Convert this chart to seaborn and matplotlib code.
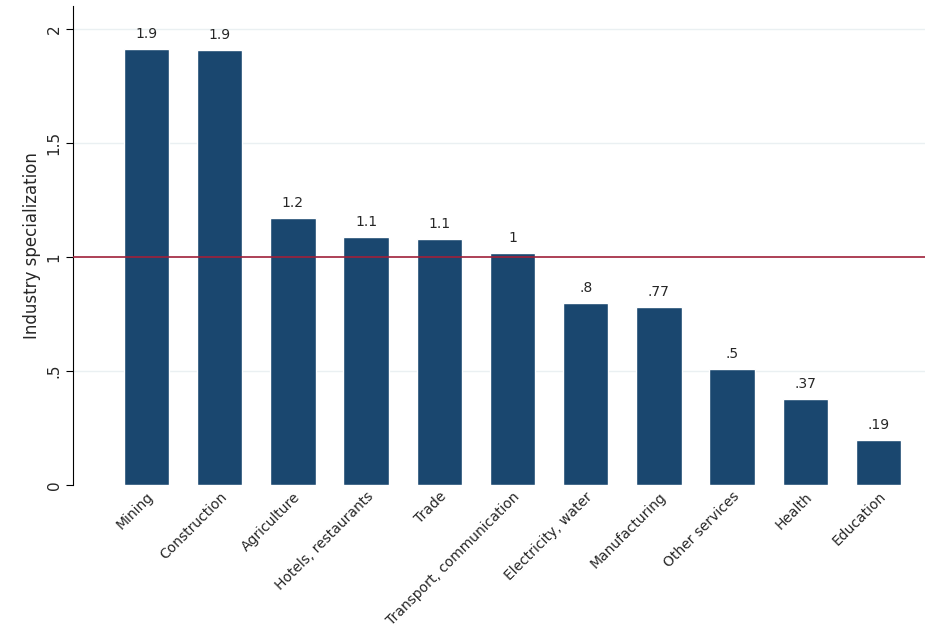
import matplotlib
matplotlib.use('Agg')
import matplotlib.pyplot as plt
import seaborn as sns
import pandas as pd

# Data
industries = ['Mining', 'Construction', 'Agriculture', 'Hotels, restaurants', 'Trade',
              'Transport, communication', 'Electricity, water', 'Manufacturing',
              'Other services', 'Health', 'Education']
values = [1.915, 1.908, 1.171, 1.088, 1.079, 1.018, 0.798, 0.781, 0.509, 0.377, 0.197]
bar_labels = ['1.9', '1.9', '1.2', '1.1', '1.1', '1', '.8', '.77', '.5', '.37', '.19']
ytick_vals = [0, 0.5, 1, 1.5, 2]
ytick_labels = ['0', '.5', '1', '1.5', '2']

df = pd.DataFrame({'industry': industries, 'value': values})

sns.set_style('white')
plt.rcParams['font.family'] = ['DejaVu Sans']

fig = plt.figure(figsize=(9.28, 6.42), dpi=100)
ax = fig.add_axes([0.079, 0.245, 0.918, 0.745])

for y in [1.5, 2]:
    ax.axhline(y, color='#eaf0f2', lw=1, zorder=0)
ax.axhline(0.5, color='#eaf0f2', lw=1, zorder=0)

sns.barplot(data=df, x='industry', y='value', color='#1a476f', saturation=1,
            width=0.62, ax=ax, zorder=2)
ax.axhline(1, color='#a0203a', lw=1.2, zorder=3)

for i, (v, lab) in enumerate(zip(values, bar_labels)):
    ax.text(i, v + 0.035, lab, ha='center', va='bottom', fontsize=10)

ax.set_xlim(-1.0, 10.64)
ax.set_ylim(0, 2.1)
ax.set_yticks(ytick_vals)
ax.set_yticklabels(ytick_labels, rotation=90, va='center', fontsize=11)
ax.set_xticks(range(len(industries)))
ax.set_xticklabels(industries, rotation=45, ha='right', rotation_mode='anchor', fontsize=10)
ax.set_xlabel('')
ax.set_ylabel('Industry specialization', fontsize=12)
ax.tick_params(axis='y', length=5, color='black', left=True)
ax.tick_params(axis='x', length=0)
for s in ['top', 'right', 'bottom']:
    ax.spines[s].set_visible(False)
ax.spines['left'].set_color('black')

fig.savefig('out.png', dpi=100)
